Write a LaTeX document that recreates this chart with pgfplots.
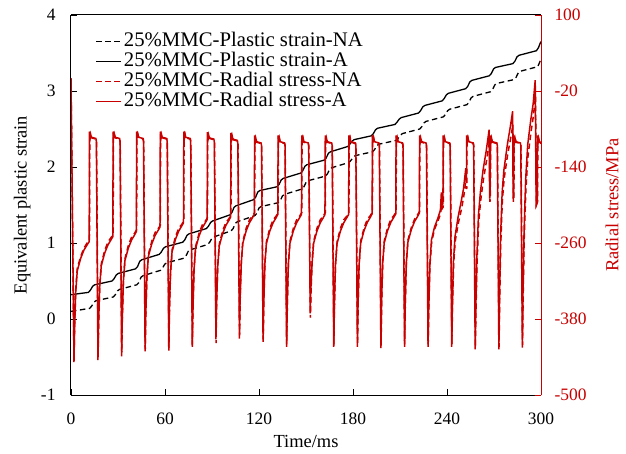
\documentclass[border=0pt]{standalone}
\usepackage{fontspec}
\setmainfont{Liberation Serif}
\usepackage{pgfplots}
\pgfplotsset{compat=1.18}
\definecolor{myred}{RGB}{200,0,0}
\begin{document}
\begin{tikzpicture}
\useasboundingbox (-71bp,-59bp) rectangle (555bp,395bp);
\begin{axis}[
  at={(0,0)}, anchor=south west,
  width=470bp, height=380bp, scale only axis,
  xmin=0, xmax=300, ymin=-1, ymax=4,
  axis x line*=box, axis y line*=left,
  xtick={0,60,120,180,240,300}, ytick={-1,0,1,2,3,4},
  xtick pos=left, ytick pos=left,
  tick align=inside, major tick length=6bp,
  tick style={black, line width=0.8bp},
  axis line style={black, line width=1bp},
  /pgf/number format/assume math mode=true,
  ticklabel style={font=\fontsize{17.5}{18}\selectfont},
  xticklabel style={yshift=-14bp},
  yticklabel style={xshift=-12bp},
  xlabel={Time/ms}, ylabel={Equivalent plastic strain},
  label style={font=\fontsize{18.5}{19}\selectfont},
  xlabel style={at={(axis description cs:0.5,-0.122)}, anchor=center},
  ylabel style={at={(axis description cs:-0.104,0.5)}, anchor=center},
]
\addplot[black, line width=1.3bp, dash pattern=on 5.5bp off 3.5bp] coordinates {
(0,0.10) (11.9,0.14) (13.2,0.17) (14.6,0.22) (15.9,0.24)
(27.0,0.29) (28.3,0.32) (29.7,0.37) (31.0,0.39)
(42.0,0.45) (43.3,0.48) (44.7,0.55) (46.0,0.57)
(57.1,0.64) (58.4,0.67) (59.8,0.72) (61.1,0.74)
(72.1,0.80) (73.4,0.83) (74.8,0.89) (76.1,0.91)
(87.2,0.98) (88.5,1.01) (89.9,1.06) (91.2,1.08)
(102.2,1.16) (103.5,1.19) (104.9,1.26) (106.2,1.28)
(117.3,1.36) (118.6,1.39) (120.0,1.46) (121.3,1.48)
(132.3,1.53) (133.6,1.56) (135.0,1.62) (136.3,1.64)
(147.4,1.71) (148.7,1.74) (150.1,1.80) (151.4,1.82)
(162.4,1.88) (163.7,1.91) (165.1,1.97) (166.4,1.99)
(177.5,2.06) (178.8,2.09) (180.2,2.13) (181.5,2.15)
(192.5,2.20) (193.8,2.23) (195.2,2.28) (196.5,2.30)
(207.6,2.35) (208.9,2.38) (210.3,2.42) (211.6,2.44)
(222.6,2.50) (223.9,2.53) (225.3,2.58) (226.6,2.60)
(237.7,2.66) (239.0,2.69) (240.4,2.74) (241.7,2.76)
(252.7,2.82) (254.0,2.85) (255.4,2.91) (256.7,2.93)
(267.8,2.99) (269.1,3.02) (270.5,3.08) (271.8,3.10)
(282.8,3.15) (284.1,3.18) (285.5,3.24) (286.8,3.26)
(297.9,3.32) (299.2,3.38) (300,3.43)
};
\addplot[black, line width=1.3bp] coordinates {
(0,0.32) (11.1,0.35) (12.4,0.38) (13.8,0.43) (15.1,0.45)
(26.2,0.50) (27.5,0.53) (28.9,0.58) (30.2,0.60)
(41.2,0.66) (42.5,0.69) (43.9,0.76) (45.2,0.78)
(56.3,0.85) (57.6,0.88) (59.0,0.93) (60.3,0.95)
(71.3,1.01) (72.6,1.04) (74.0,1.10) (75.3,1.12)
(86.4,1.19) (87.7,1.22) (89.1,1.27) (90.4,1.29)
(101.4,1.37) (102.7,1.40) (104.1,1.47) (105.4,1.49)
(116.5,1.57) (117.8,1.60) (119.2,1.67) (120.5,1.69)
(131.5,1.74) (132.8,1.77) (134.2,1.83) (135.5,1.85)
(146.6,1.92) (147.9,1.95) (149.3,2.01) (150.6,2.03)
(161.6,2.09) (162.9,2.12) (164.3,2.18) (165.6,2.20)
(176.7,2.27) (178.0,2.30) (179.4,2.34) (180.7,2.36)
(191.7,2.41) (193.0,2.44) (194.4,2.49) (195.7,2.51)
(206.8,2.56) (208.1,2.59) (209.5,2.63) (210.8,2.65)
(221.8,2.71) (223.1,2.74) (224.5,2.79) (225.8,2.81)
(236.9,2.87) (238.2,2.90) (239.6,2.95) (240.9,2.97)
(251.9,3.03) (253.2,3.06) (254.6,3.12) (255.9,3.14)
(267.0,3.20) (268.3,3.23) (269.7,3.29) (271.0,3.31)
(282.0,3.36) (283.3,3.39) (284.7,3.45) (286.0,3.47)
(297.1,3.53) (298.4,3.57) (299.3,3.62) (300,3.65)
};
\end{axis}
\begin{axis}[
  at={(0,0)}, anchor=south west,
  width=470bp, height=380bp, scale only axis,
  xmin=0, xmax=300, ymin=-500, ymax=100,
  axis x line=none, axis y line*=right,
  ytick={-500,-380,-260,-140,-20,100}, ytick pos=right,
  /pgf/number format/assume math mode=true,
  tick align=inside, major tick length=6bp,
  tick style={color=myred, line width=0.8bp},
  y axis line style={color=myred, line width=1bp},
  yticklabel style={text=myred, font=\fontsize{17.5}{18}\selectfont, xshift=10bp},
  ylabel={Radial stress/MPa},
  ylabel style={font=\fontsize{18.5}{19}\selectfont, text=myred, at={(axis description cs:1.151,0.5)}, anchor=center},
  legend cell align=left,
  legend style={at={(axis description cs:0.051,0.957)}, anchor=north west,
    draw=none, fill=none, inner sep=0pt, row sep=0pt,
    font=\fontsize{20.8}{21}\selectfont,
    nodes={inner sep=0pt, text height=14.5bp, text depth=5.5bp},
    /tikz/every odd column/.style={column sep=2bp}},
]
\addlegendimage{legend image code/.code={\draw[black, line width=1.3bp, dash pattern=on 5.5bp off 3.5bp] (0bp,0bp) -- (25bp,0bp);}}
\addlegendentry{25\%MMC-Plastic strain-NA}
\addlegendimage{legend image code/.code={\draw[black, line width=1.3bp] (0bp,0bp) -- (25bp,0bp);}}
\addlegendentry{25\%MMC-Plastic strain-A}
\addlegendimage{legend image code/.code={\draw[myred, line width=1.8bp, dash pattern=on 5.5bp off 3.5bp] (0bp,0bp) -- (25bp,0bp);}}
\addlegendentry{25\%MMC-Radial stress-NA}
\addlegendimage{legend image code/.code={\draw[myred, line width=1.8bp] (0bp,0bp) -- (25bp,0bp);}}
\addlegendentry{25\%MMC-Radial stress-A}
\addplot[myred, line width=1.5bp, dash pattern=on 5.5bp off 3.5bp, forget plot] coordinates {
(0,0) (1.9,-445) (2.3,-392) (3.0,-333) (4.0,-300) (6.2,-281) (8.3,-268) (10.0,-261)
(11.8,-255) (12.0,-86) (12.3,-94) (12.7,-89) (13.2,-94) (16.0,-96) (16.3,-101) (17.3,-440) (17.7,-384) (18.4,-326) (19.4,-292) (21.6,-271) (23.7,-258) (25.4,-252)
(26.9,-247) (27.1,-86) (27.4,-94) (27.8,-89) (28.3,-94) (31.1,-96) (31.4,-101) (32.4,-433) (32.8,-376) (33.5,-318) (34.5,-284) (36.7,-263) (38.8,-250) (40.5,-245)
(41.9,-239) (42.1,-86) (42.4,-94) (42.8,-89) (43.3,-94) (46.1,-96) (46.4,-101) (47.4,-427) (47.8,-369) (48.5,-311) (49.5,-277) (51.7,-256) (53.8,-243) (55.5,-238)
(57.0,-232) (57.2,-86) (57.5,-94) (57.9,-89) (58.4,-94) (61.2,-96) (61.5,-101) (62.5,-430) (62.9,-363) (63.6,-304) (64.6,-270) (66.8,-249) (68.9,-236) (70.6,-231)
(72.0,-225) (72.2,-86) (72.5,-94) (72.9,-89) (73.4,-94) (76.2,-96) (76.5,-101) (77.5,-420) (77.9,-360) (78.6,-299) (79.6,-265) (81.8,-244) (83.9,-231) (85.6,-226)
(87.1,-220) (87.3,-87) (87.6,-95) (88.0,-90) (88.5,-95) (91.3,-97) (91.6,-102) (92.6,-418) (93.0,-352) (93.7,-295) (94.7,-261) (96.9,-240) (99.0,-227) (100.7,-222)
(102.1,-216) (102.3,-88) (102.6,-96) (103.0,-91) (103.5,-97) (106.3,-99) (106.6,-104) (107.6,-406) (108.0,-349) (108.7,-291) (109.7,-257) (111.9,-236) (114.0,-223) (115.7,-218)
(117.2,-212) (117.4,-91) (117.7,-100) (118.1,-95) (118.6,-101) (121.4,-103) (121.7,-107) (122.7,-412) (123.1,-352) (123.8,-291) (124.8,-257) (127.0,-236) (129.1,-223) (130.8,-218)
(132.2,-212) (132.4,-91) (132.7,-100) (133.1,-95) (133.6,-101) (136.4,-103) (136.7,-107) (137.7,-420) (138.1,-356) (138.8,-291) (139.8,-257) (142.0,-236) (144.1,-223) (145.8,-218)
(147.3,-212) (147.5,-91) (147.8,-100) (148.2,-95) (148.7,-101) (151.5,-103) (151.8,-107) (152.8,-378) (153.2,-337) (153.9,-291) (154.9,-257) (157.1,-236) (159.2,-223) (160.9,-218)
(162.3,-212) (162.5,-91) (162.8,-100) (163.2,-95) (163.7,-101) (166.5,-103) (166.8,-107) (167.8,-420) (168.2,-356) (168.9,-291) (169.9,-257) (172.1,-236) (174.2,-223) (175.9,-218)
(177.4,-212) (177.6,-91) (177.9,-100) (178.3,-95) (178.8,-101) (181.6,-103) (181.9,-107) (182.9,-420) (183.3,-356) (184.0,-290) (185.0,-256) (187.2,-235) (189.3,-222) (191.0,-217)
(192.4,-211) (192.6,-91) (192.9,-100) (193.3,-95) (193.8,-101) (196.6,-103) (196.9,-107) (197.9,-422) (198.3,-356) (199.0,-290) (200.0,-256) (202.2,-235) (204.3,-222) (206.0,-217)
(207.5,-211) (207.7,-91) (208.0,-100) (208.4,-95) (208.9,-101) (211.7,-103) (212.0,-107) (213.0,-420) (213.4,-355) (214.1,-289) (215.1,-255) (217.3,-235) (219.4,-222) (221.1,-216)
(222.5,-210) (222.7,-91) (223.0,-100) (223.4,-95) (223.9,-101) (226.7,-103) (227.0,-107) (228.0,-420) (228.4,-362) (229.1,-295) (230.2,-258) (232.1,-238) (234.1,-226) (235.9,-214) (236.6,-192) (237.1,-205)
(237.6,-203) (237.8,-91) (238.1,-100) (238.5,-95) (239.0,-101) (241.8,-103) (242.1,-107) (243.1,-420) (243.5,-362) (244.2,-295) (245.2,-258) (247.1,-230) (249.1,-208) (250.6,-188) (252.2,-158)
(252.6,-175) (252.8,-91) (253.1,-100) (253.5,-95) (254.0,-101) (256.8,-103) (257.1,-107) (258.1,-424) (258.5,-365) (259.2,-290) (260.2,-228) (261.4,-195) (263.1,-162) (265.1,-132) (267.1,-100) (267.4,-195)
(267.7,-190) (267.9,-91) (268.2,-100) (268.6,-95) (269.1,-101) (271.9,-103) (272.2,-107) (273.2,-424) (273.6,-355) (274.3,-262) (275.3,-195) (276.4,-160) (278.6,-122) (280.6,-95) (282.1,-73) (282.4,-195)
(282.7,-190) (282.9,-91) (283.2,-100) (283.6,-95) (284.1,-101) (286.9,-103) (287.2,-107) (288.2,-421) (288.6,-345) (289.3,-252) (290.3,-178) (291.6,-125) (293.6,-85) (295.1,-60) (296.5,-28) (297.1,-200)
(297.8,-195) (298.0,-91) (298.3,-100) (298.7,-95) (299.2,-101) (300.0,-103)
};
\addplot[myred, line width=1.5bp, forget plot] coordinates {
(0,0) (1.9,-448) (2.3,-395) (3.0,-338) (4.0,-304) (6.2,-284) (8.3,-271) (10.0,-264)
(11.6,-258) (11.8,-84) (12.1,-93) (12.5,-88) (13.0,-93) (15.9,-95) (16.2,-100) (17.2,-445) (17.6,-388) (18.3,-330) (19.3,-296) (21.5,-276) (23.6,-263) (25.3,-256)
(26.7,-250) (26.9,-84) (27.2,-93) (27.6,-88) (28.1,-93) (31.0,-95) (31.3,-100) (32.3,-439) (32.7,-380) (33.4,-322) (34.4,-288) (36.6,-268) (38.7,-255) (40.4,-248)
(41.7,-242) (41.9,-84) (42.2,-93) (42.6,-88) (43.1,-93) (46.0,-95) (46.3,-100) (47.3,-431) (47.7,-373) (48.4,-315) (49.4,-281) (51.6,-261) (53.7,-248) (55.4,-241)
(56.8,-235) (57.0,-84) (57.3,-93) (57.7,-88) (58.2,-93) (61.1,-95) (61.4,-100) (62.4,-426) (62.8,-367) (63.5,-308) (64.5,-274) (66.7,-254) (68.8,-241) (70.5,-234)
(71.8,-228) (72.0,-84) (72.3,-93) (72.7,-88) (73.2,-93) (76.1,-95) (76.4,-100) (77.4,-424) (77.8,-364) (78.5,-303) (79.5,-269) (81.7,-249) (83.8,-236) (85.5,-229)
(86.9,-223) (87.1,-85) (87.4,-94) (87.8,-89) (88.3,-94) (91.2,-96) (91.5,-101) (92.5,-412) (92.9,-356) (93.6,-299) (94.6,-265) (96.8,-245) (98.9,-232) (100.6,-225)
(101.9,-219) (102.1,-86) (102.4,-95) (102.8,-90) (103.3,-96) (106.2,-98) (106.5,-103) (107.5,-411) (107.9,-353) (108.6,-295) (109.6,-261) (111.8,-241) (113.9,-228) (115.6,-221)
(117.0,-215) (117.2,-90) (117.5,-99) (117.9,-94) (118.4,-100) (121.3,-102) (121.6,-106) (122.6,-416) (123.0,-356) (123.7,-295) (124.7,-261) (126.9,-241) (129.0,-228) (130.7,-221)
(132.0,-215) (132.2,-90) (132.5,-99) (132.9,-94) (133.4,-100) (136.3,-102) (136.6,-106) (137.6,-424) (138.0,-360) (138.7,-295) (139.7,-261) (141.9,-241) (144.0,-228) (145.7,-221)
(147.1,-215) (147.3,-90) (147.6,-99) (148.0,-94) (148.5,-100) (151.4,-102) (151.7,-106) (152.7,-371) (153.1,-333) (153.8,-295) (154.8,-261) (157.0,-241) (159.1,-228) (160.8,-221)
(162.1,-215) (162.3,-90) (162.6,-99) (163.0,-94) (163.5,-100) (166.4,-102) (166.7,-106) (167.7,-424) (168.1,-360) (168.8,-295) (169.8,-261) (172.0,-241) (174.1,-228) (175.8,-221)
(177.2,-215) (177.4,-90) (177.7,-99) (178.1,-94) (178.6,-100) (181.5,-102) (181.8,-106) (182.8,-424) (183.2,-360) (183.9,-294) (184.9,-260) (187.1,-240) (189.2,-227) (190.9,-220)
(192.2,-214) (192.4,-90) (192.7,-99) (193.1,-94) (193.6,-100) (196.5,-102) (196.8,-106) (197.8,-426) (198.2,-360) (198.9,-294) (199.9,-260) (202.1,-240) (204.2,-227) (205.9,-220)
(207.3,-214) (207.5,-90) (207.8,-99) (208.2,-94) (208.7,-100) (211.6,-102) (211.9,-106) (212.9,-424) (213.3,-359) (214.0,-293) (215.0,-259) (217.2,-239) (219.3,-226) (221.0,-219)
(222.3,-213) (222.5,-90) (222.8,-99) (223.2,-94) (223.7,-100) (226.6,-102) (226.9,-106) (227.9,-424) (228.3,-365) (229.0,-297) (230.1,-255) (232.0,-235) (234.0,-222) (235.8,-208) (236.4,-180) (236.9,-200)
(237.4,-198) (237.6,-90) (237.9,-99) (238.3,-94) (238.8,-100) (241.7,-102) (242.0,-106) (243.0,-424) (243.4,-360) (244.1,-290) (245.1,-250) (247.0,-220) (249.0,-195) (250.5,-175) (252.0,-142)
(252.4,-165) (252.6,-90) (252.9,-99) (253.3,-94) (253.8,-100) (256.7,-102) (257.0,-106) (258.0,-428) (258.4,-360) (259.1,-280) (260.1,-215) (261.3,-180) (263.0,-145) (265.0,-115) (266.9,-81) (267.2,-190)
(267.5,-185) (267.7,-90) (268.0,-99) (268.4,-94) (268.9,-100) (271.8,-102) (272.1,-106) (273.1,-428) (273.5,-350) (274.2,-250) (275.2,-180) (276.3,-145) (278.5,-105) (280.5,-75) (281.9,-52) (282.2,-190)
(282.5,-185) (282.7,-90) (283.0,-99) (283.4,-94) (283.9,-100) (286.8,-102) (287.1,-106) (288.1,-425) (288.5,-340) (289.2,-240) (290.2,-160) (291.5,-105) (293.5,-65) (295.0,-40) (296.3,-3) (296.9,-200)
(297.6,-195) (297.8,-90) (298.1,-99) (298.5,-94) (299.0,-100) (300.0,-102)
};
\end{axis}
\end{tikzpicture}
\end{document}
